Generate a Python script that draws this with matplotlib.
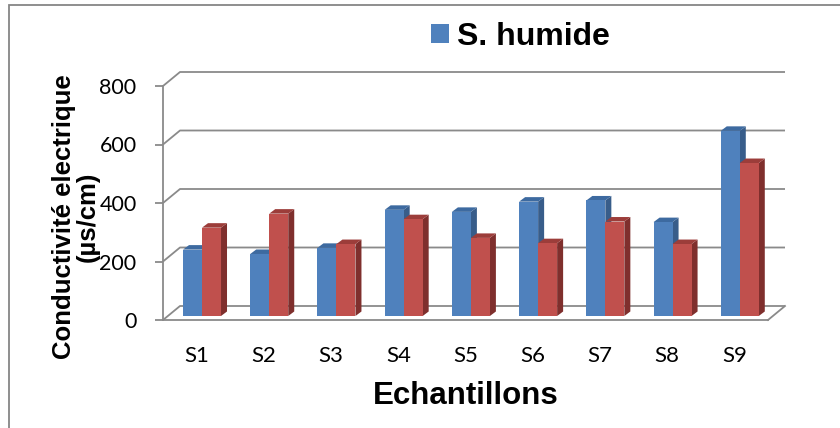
import numpy as np
import matplotlib
matplotlib.use('Agg')
import matplotlib.pyplot as plt
from matplotlib.patches import Polygon, Rectangle

# data
cats = ['S1', 'S2', 'S3', 'S4', 'S5', 'S6', 'S7', 'S8', 'S9']
humide = [227, 212, 233, 363, 356, 391, 395, 321, 633]
seche = [302, 350, 246, 331, 267, 249, 323, 246, 523]
yticks = [0, 200, 400, 600, 800]

W, H = 840, 428
fig = plt.figure(figsize=(W / 100, H / 100), dpi=100)

# plot area in pixels (front floor edge / front axis)
x0, x1 = 163, 768
y0, y1 = 320, 86
ax = fig.add_axes([x0 / W, 1 - y0 / H, (x1 - x0) / W, (y0 - y1) / H])
ax.set_xlim(-0.5, len(cats) - 0.5)
ax.set_ylim(0, 800)

# pixel -> data conversion
ux = len(cats) / (x1 - x0)
uy = 800 / (y0 - y1)

grid_c = '#8a8a8a'
for s in ['top', 'right']:
    ax.spines[s].set_visible(False)
for s in ['left', 'bottom']:
    ax.spines[s].set_color(grid_c)
    ax.spines[s].set_linewidth(1.3)

# back wall / side wall gridlines
DX, DY = 17 * ux, 14 * uy
xl, xr = -0.5, len(cats) - 0.5
for v in yticks:
    ax.plot([xl, xl + DX, xr + DX], [v, v + DY, v + DY], color=grid_c, lw=1.3,
            clip_on=False, zorder=1, solid_capstyle='butt')
ax.plot([xr, xr + DX], [0, DY], color=grid_c, lw=1.3, clip_on=False, zorder=1)

# bars (front faces + side/top faces)
bw = 19 * ux
ox, oy = 5.4 * ux, 4 * uy
sx, sy = 6 * ux, 4.5 * uy
xpos = np.arange(len(cats))
series = [(humide, -bw / 2, '#4f81bd', '#385d8a', '#3d6aa0'),
          (seche, bw / 2, '#c0504d', '#7f2f2d', '#9c3d3a')]
for i in xpos:
    for vals, off, cf, cs, ct in series:
        v = vals[i]
        xa = i + ox + off - bw / 2
        xb = xa + bw
        side = Polygon([(xb, oy), (xb + sx, oy + sy), (xb + sx, oy + v + sy), (xb, oy + v)],
                       closed=True, fc=cs, ec='none', clip_on=False, zorder=3)
        top = Polygon([(xa, oy + v), (xa + sx, oy + v + sy), (xb + sx, oy + v + sy), (xb, oy + v)],
                      closed=True, fc=ct, ec='none', clip_on=False, zorder=3)
        ax.add_patch(side)
        ax.add_patch(top)
        ax.bar(xa + bw / 2, v, bw, bottom=oy, color=cf, zorder=3, clip_on=False)

bars_h = Rectangle((0, 0), 1, 1, fc='#4f81bd')

tick_font = 'Lato'
ax.set_yticks(yticks)
ax.set_yticklabels([str(v) for v in yticks], fontsize=15.5, family=tick_font)
ax.tick_params(axis='y', length=6, width=1.3, color=grid_c, pad=13)
ax.set_xticks(xpos)
ax.set_xticklabels(cats, fontsize=16, family=tick_font)
ax.tick_params(axis='x', length=0, pad=19)

fig.text(76 / W, 1 - 217 / H, 'Conductivité electrique\n(µs/cm)', rotation=90,
         ha='center', va='center', fontsize=18.5, fontweight='bold',
         family='Liberation Sans', linespacing=0.95)
fig.text(466 / W, 1 - 396 / H, 'Echantillons', ha='center', va='center',
         fontsize=22.5, fontweight='bold', family='Liberation Sans')

fig.legend(handles=[bars_h], labels=['S. humide'], loc='center left',
           bbox_to_anchor=(431 / W, 1 - 37 / H), frameon=False, borderpad=0,
           borderaxespad=0, handlelength=0.55, handleheight=0.55, handletextpad=0.25,
           prop={'family': 'Liberation Sans', 'weight': 'bold', 'size': 23})

# chart border
fig.patches.append(Rectangle((9 / W, -0.1), 1.2, 1 - 5 / H + 0.1, transform=fig.transFigure,
                             fill=False, ec='#868686', lw=1.3))

fig.savefig('out.png', dpi=100)
